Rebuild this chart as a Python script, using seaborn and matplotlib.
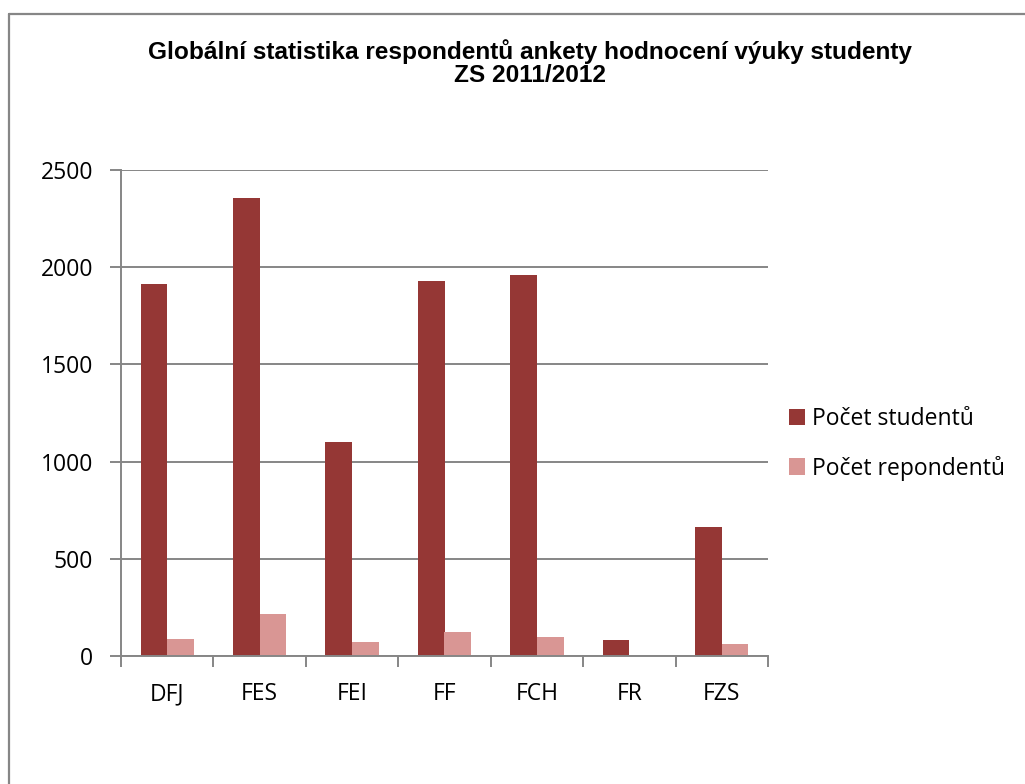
import matplotlib
matplotlib.use("Agg")
import matplotlib.pyplot as plt
from matplotlib.lines import Line2D
from matplotlib.ticker import FixedLocator, NullFormatter
import seaborn as sns
import pandas as pd

categories = ["DFJ", "FES", "FEI", "FF", "FCH", "FR", "FZS"]
pocet_studentu = [1915, 2356, 1101, 1929, 1960, 84, 666]
pocet_respondentu = [86, 216, 70, 122, 100, 0, 60]
series_names = ["Počet studentů", "Počet repondentů"]
y_ticks = [0, 500, 1000, 1500, 2000, 2500]
title_text = "Globální statistika respondentů ankety hodnocení výuky studenty\nZS 2011/2012"

df = pd.DataFrame({
    "fakulta": categories * 2,
    "pocet": pocet_studentu + pocet_respondentu,
    "serie": [series_names[0]] * len(categories) + [series_names[1]] * len(categories),
})

sns.set_theme(style="white")
plt.rcParams["font.family"] = ["Open Sans", "DejaVu Sans"]
plt.rcParams["text.color"] = "black"

GRAY = "#868686"
fig = plt.figure(figsize=(10.25, 7.84), dpi=100)
ax = fig.add_axes([121 / 1025, 1 - 656 / 784, (768 - 121) / 1025, (656 - 170) / 784])

sns.barplot(data=df, x="fakulta", y="pocet", hue="serie", order=categories,
            hue_order=series_names, palette=["#953735", "#D99694"],
            width=0.575, linewidth=0, saturation=1, ax=ax, legend=True)

ax.set_xlim(-0.5, len(categories) - 0.5)
ax.set_ylim(0, 2500)
ax.set_yticks(y_ticks)
ax.set_xlabel("")
ax.set_ylabel("")
ax.yaxis.grid(True, color=GRAY, linewidth=1.4)
ax.set_axisbelow(True)
for s in ["top", "right"]:
    ax.spines[s].set_visible(False)
for s in ["left", "bottom"]:
    ax.spines[s].set_color(GRAY)
    ax.spines[s].set_linewidth(1.4)

ax.tick_params(axis="y", which="major", length=8, width=1.4, color=GRAY, direction="out",
               labelsize=16.5, pad=12, left=True, labelcolor="black")
ax.tick_params(axis="x", which="major", length=0, labelsize=16.5, pad=19, labelcolor="black")
ax.xaxis.set_minor_locator(FixedLocator([i - 0.5 for i in range(len(categories) + 1)]))
ax.xaxis.set_minor_formatter(NullFormatter())
ax.tick_params(axis="x", which="minor", length=8, width=1.4, color=GRAY, direction="out", bottom=True)

leg = ax.legend(loc="center left", bbox_to_anchor=(789 / 1025, 1 - 444 / 784),
                bbox_transform=fig.transFigure, frameon=False, fontsize=16.5,
                handlelength=0.7, handleheight=0.7, handletextpad=0.3, labelspacing=1.05,
                borderaxespad=0, borderpad=0)
for t in leg.get_texts():
    t.set_color("black")

fig.text(529.5 / 1025, 1 - 63 / 784, title_text, ha="center", va="center",
         fontsize=17.6, fontweight="bold", family=["Liberation Sans", "DejaVu Sans"],
         linespacing=1.03, color="black")

fig.add_artist(Line2D([9 / 1025, 9 / 1025], [0, 1 - 13.5 / 784], transform=fig.transFigure,
                      color=GRAY, linewidth=1.6))
fig.add_artist(Line2D([9 / 1025, 1], [1 - 13.5 / 784, 1 - 13.5 / 784], transform=fig.transFigure,
                      color=GRAY, linewidth=1.6))

fig.savefig("out.png", dpi=100, facecolor="white")
